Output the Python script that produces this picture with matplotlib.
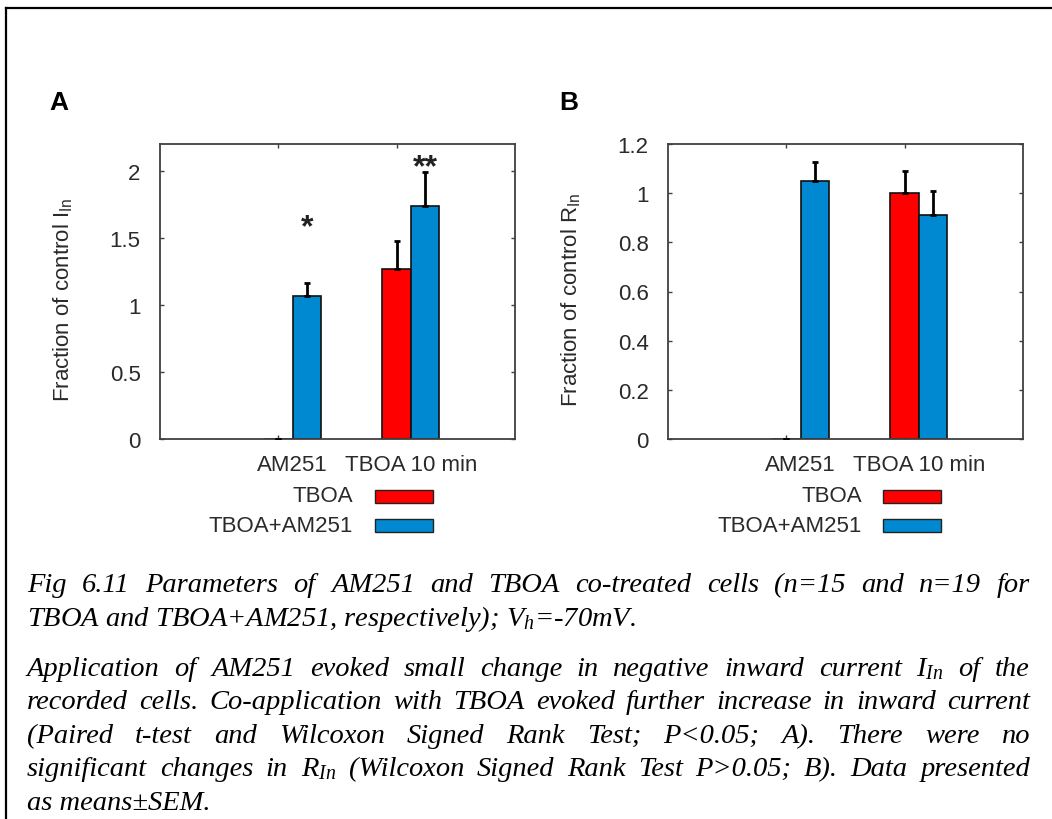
import matplotlib
matplotlib.use("Agg")
import matplotlib.pyplot as plt
from matplotlib.patches import Rectangle
from matplotlib.lines import Line2D
import numpy as np

# ---------------- data ----------------
categories = ["AM251", "TBOA 10 min"]
series_names = ["TBOA", "TBOA+AM251"]
series_colors = ["#FF0000", "#0089D0"]

# Panel A: fraction of control I_In
A_tboa = [0.0, 1.265]
A_tboa_err = [0.0, 0.21]
A_combo = [1.07, 1.74]
A_combo_err = [0.09, 0.25]
A_stars = ["*", "**"]
A_star_y = [1.58, 2.03]
A_yticks = [0, 0.5, 1, 1.5, 2]
A_yticklabels = ["0", "0.5", "1", "1.5", "2"]

# Panel B: fraction of control R_In
B_tboa = [0.0, 1.0]
B_tboa_err = [0.0, 0.09]
B_combo = [1.05, 0.91]
B_combo_err = [0.075, 0.10]
B_yticks = [0, 0.2, 0.4, 0.6, 0.8, 1.0, 1.2]
B_yticklabels = ["0", "0.2", "0.4", "0.6", "0.8", "1", "1.2"]

caption_p1 = [
    ("Fig 6.11 Parameters of AM251 and TBOA co-treated cells (n=15 and n=19 for", True),
    ("TBOA and TBOA+AM251, respectively); $V_h$=-70mV.", False),
]
caption_p2 = [
    ("Application of AM251 evoked small change in negative inward current $I_{In}$ of the", True),
    ("recorded cells. Co-application with TBOA evoked further increase in inward current", True),
    ("(Paired t-test and Wilcoxon Signed Rank Test; P<0.05; A). There were no", True),
    ("significant changes in $R_{In}$ (Wilcoxon Signed Rank Test P>0.05; B). Data presented", True),
    ("as means\u00b1SEM.", False),
]

# ---------------- style ----------------
plt.rcParams["font.family"] = ["Liberation Sans", "DejaVu Sans"]
plt.rcParams["mathtext.fontset"] = "custom"
plt.rcParams["mathtext.it"] = "Liberation Serif:italic"
plt.rcParams["mathtext.rm"] = "Liberation Serif:italic"
plt.rcParams["mathtext.sf"] = "Liberation Sans"

W, H = 1052, 820
fig = plt.figure(figsize=(W / 100, H / 100), dpi=100)
fig.patch.set_facecolor("white")

def fx(px):
    return px / W

def fy(py):
    return (H - py) / H

TXT = "#2a2a2a"
SPINE = "#404040"
bw = 0.24
x = np.arange(1, len(categories) + 1)


def panel(left_px, tboa, tboa_err, combo, combo_err, yticks, yticklabels, ylim, ylabel, letter, letter_px):
    ax = fig.add_axes([fx(left_px), fy(440), 355 / W, 295 / H])
    ax.bar(x, tboa, width=bw, color=series_colors[0], edgecolor="#111111", linewidth=1.2, zorder=2)
    ax.bar(x + bw, combo, width=bw, color=series_colors[1], edgecolor="#111111", linewidth=1.2, zorder=2)
    ax.errorbar(x, tboa, yerr=[np.zeros(len(tboa)), tboa_err], fmt="none", ecolor="black",
                elinewidth=2.0, capsize=2.2, capthick=2.0, zorder=3)
    ax.errorbar(x + bw, combo, yerr=[np.zeros(len(combo)), combo_err], fmt="none", ecolor="black",
                elinewidth=2.0, capsize=2.2, capthick=2.0, zorder=3)
    ax.set_xlim(0, 3)
    ax.set_ylim(*ylim)
    ax.set_xticks(x)
    ax.set_xticklabels(["", ""])
    ax.set_xticks(x + bw / 2, minor=True)
    ax.set_xticklabels(categories, minor=True, fontsize=16, color=TXT)
    ax.set_yticks(yticks)
    ax.set_yticklabels(yticklabels, fontsize=16, color=TXT)
    ax.tick_params(which="major", direction="in", length=3, width=1.0, color=SPINE,
                   top=True, right=True, pad=14)
    ax.tick_params(which="minor", length=0, pad=11)
    for s in ax.spines.values():
        s.set_color(SPINE)
        s.set_linewidth(1.3)
    fig.text(fx(left_px - 97), fy(300), ylabel, rotation=90, ha="center", va="center",
             fontsize=16, color=TXT)
    fig.text(fx(letter_px), fy(110), letter, fontsize=19, fontweight="bold", ha="left",
             va="baseline", color="black")
    return ax


axA = panel(160, A_tboa, A_tboa_err, A_combo, A_combo_err, A_yticks, A_yticklabels, (0, 2.2),
            r"Fraction of control I$_{\mathsf{In}}$", "A", 49)
for xi, s, yv in zip(x + bw, A_stars, A_star_y):
    axA.text(xi, yv, s, ha="center", va="center", fontsize=23, fontweight="bold", color="#222222")

axB = panel(668, B_tboa, B_tboa_err, B_combo, B_combo_err, B_yticks, B_yticklabels, (0, 1.2),
            r"Fraction of control R$_{\mathsf{In}}$", "B", 559)

# legends
for text_right, patch_left in [(353, 375), (862, 883)]:
    for i, (name, col) in enumerate(zip(series_names, series_colors)):
        yc = 497 + 29 * i
        fig.text(fx(text_right), fy(yc), name, ha="right", va="center", fontsize=16, color=TXT)
        fig.patches.append(Rectangle((fx(patch_left), fy(yc + 6.5)), 58 / W, 13 / H,
                                     transform=fig.transFigure, facecolor=col,
                                     edgecolor="#222222", linewidth=1.0))

# border
fig.lines.append(Line2D([fx(6), 1.0], [fy(9), fy(9)], transform=fig.transFigure, color="black", lw=1.6))
fig.lines.append(Line2D([fx(6), fx(6)], [fy(9), 0.0], transform=fig.transFigure, color="black", lw=1.6))

# caption (justified)
renderer = fig.canvas.get_renderer()
cap_kw = dict(fontsize=20.5, fontstyle="italic", family=["Liberation Serif", "DejaVu Serif"], color="black")
X0, X1 = 27, 1030


def draw_line(text, justify, base_y):
    if not justify:
        fig.text(fx(X0), fy(base_y), text, ha="left", va="baseline", **cap_kw)
        return
    words = text.split(" ")
    objs = [fig.text(0, fy(base_y), w, ha="left", va="baseline", **cap_kw) for w in words]
    widths = [o.get_window_extent(renderer).width for o in objs]
    gap = (X1 - X0 - sum(widths)) / (len(words) - 1)
    cur = X0
    for o, wdt in zip(objs, widths):
        o.set_x(fx(cur))
        cur += wdt + gap


for (t, j), by in zip(caption_p1, [592, 626]):
    draw_line(t, j, by)
for (t, j), by in zip(caption_p2, [676, 709, 743, 776, 810]):
    draw_line(t, j, by)

fig.savefig("out.png", dpi=100, facecolor="white")
